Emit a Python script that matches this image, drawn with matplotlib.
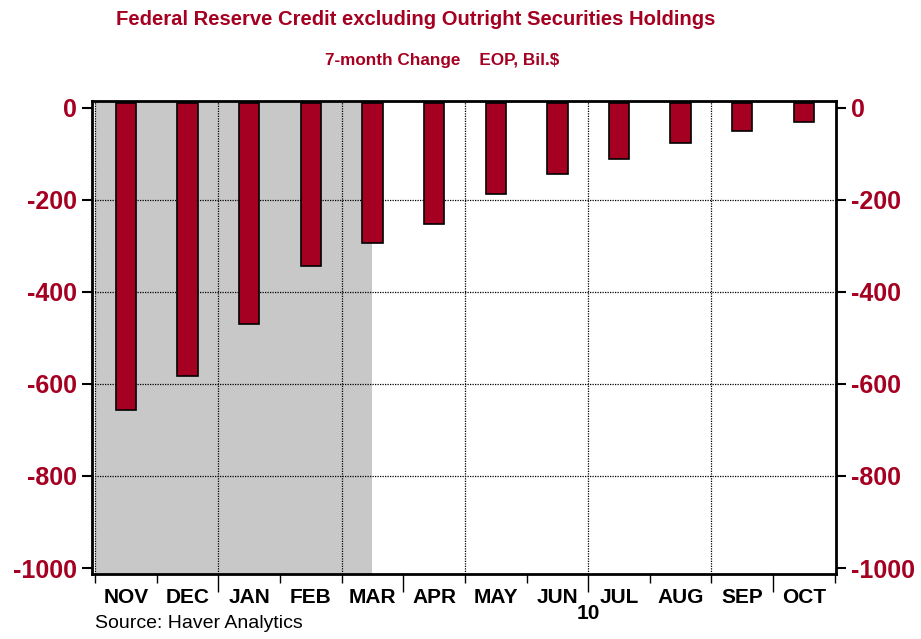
import numpy as np
import matplotlib
matplotlib.use('Agg')
import matplotlib.pyplot as plt
import matplotlib.transforms as mtransforms

plt.rcParams['font.family'] = ['Liberation Sans', 'DejaVu Sans']
plt.rcParams['axes.unicode_minus'] = False

months = ['NOV', 'DEC', 'JAN', 'FEB', 'MAR', 'APR', 'MAY', 'JUN', 'JUL', 'AUG', 'SEP', 'OCT']
change = [-656, -582, -469, -343, -294, -253, -188, -144, -111, -76, -50, -31]
yticks = [0, -200, -400, -600, -800, -1000]
shade_end = 4.5  # recession shading ends mid-MAR
year_label = '10'
year_pos = 8  # boundary JUN/JUL

red = '#a50021'
bar_top = 11

fig = plt.figure(figsize=(9.21, 6.39), dpi=100)
ax = fig.add_axes([92 / 921, 65 / 639, 744 / 921, 473 / 639])

x = np.arange(len(months)) + 0.5
ax.axvspan(0, shade_end, color='#c8c8c8', lw=0, zorder=0)
ax.bar(x, np.array(change) - bar_top, bottom=bar_top, width=0.33,
       color=red, edgecolor='black', linewidth=1.2, zorder=3)

ax.set_xlim(-0.05, 12.02)
ax.set_ylim(-1013, 15)

# grid
for v in yticks[1:-1]:
    ax.axhline(v, color='black', lw=0.9, ls=(0, (1, 1)), zorder=1)
for k in range(0, 12, 2):
    ax.axvline(k, color='black', lw=0.9, ls=(0, (1, 1)), zorder=1)

for s in ax.spines.values():
    s.set_linewidth(2)

ax.set_yticks(yticks)
ax.set_yticklabels([str(v) for v in yticks])
ax.tick_params(axis='y', left=True, right=True, labelleft=True, labelright=True,
               direction='out', length=7, width=1.5, pad=4,
               labelcolor=red, labelsize=18)
for lab in ax.get_yticklabels():
    lab.set_fontweight('bold')

ax.set_xticks([2, 5, 8, 11])
ax.set_xticks([k for k in range(13) if k not in (2, 5, 8, 11)], minor=True)
ax.tick_params(axis='x', which='major', direction='out', length=13, width=1, labelbottom=False)
ax.tick_params(axis='x', which='minor', direction='out', length=6.5, width=1, labelbottom=False)

trans = mtransforms.blended_transform_factory(ax.transData, ax.transAxes)
for xi, m in zip(x, months):
    ax.text(xi, -0.0507, m, transform=trans, ha='center', va='center',
            fontsize=15, fontweight='bold', color='black')
ax.text(year_pos, -0.0825, year_label, transform=trans, ha='center', va='center',
        fontsize=15, fontweight='bold', color='black')

fig.text(0.4517, 0.970, 'Federal Reserve Credit excluding Outright Securities Holdings',
         ha='center', va='center', fontsize=14.6, fontweight='bold', color=red)
fig.text(0.48, 0.906, '7-month Change    EOP, Bil.$',
         ha='center', va='center', fontsize=12.3, fontweight='bold', color=red)
fig.text(95 / 921, 0.025, 'Source: Haver Analytics', ha='left', va='center',
         fontsize=14, color='black')

fig.savefig('out.png', dpi=100)
